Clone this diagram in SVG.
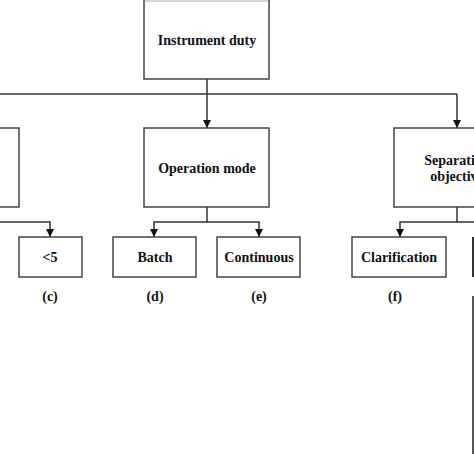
<svg xmlns="http://www.w3.org/2000/svg" width="474" height="474" viewBox="0 0 474 474">
<defs>
<marker id="ah" viewBox="0 0 10 10" refX="10" refY="5" markerWidth="8" markerHeight="8" markerUnits="userSpaceOnUse" orient="auto">
<path d="M0,0 L10,5 L0,10 Z" fill="#111"/>
</marker>
<style>
.box{fill:#fff;stroke:#444;stroke-width:1.5}
.t{font-family:"Liberation Serif","Times New Roman",serif;font-weight:bold;font-size:14px;fill:#111;text-anchor:middle}
.c{fill:none;stroke:#333;stroke-width:1.5}
</style>
</defs>
<rect x="0" y="0" width="474" height="474" fill="#fff"/>
<g id="connectors">
<path class="c" d="M207,79 V94"/>
<path class="c" d="M0,94 H457"/>
<path class="c" d="M207,94 V128" marker-end="url(#ah)"/>
<path class="c" d="M457,94 V128" marker-end="url(#ah)"/>
<path class="c" d="M0,222 H50 V237" marker-end="url(#ah)"/>
<path class="c" d="M207,207 V222"/>
<path class="c" d="M207,222 H154 V237" marker-end="url(#ah)"/>
<path class="c" d="M207,222 H259 V237" marker-end="url(#ah)"/>
<path class="c" d="M457,207 V222"/>
<path class="c" d="M474,222 H400 V237" marker-end="url(#ah)"/>
</g>
<g id="instrument-duty">
<rect class="box" x="144" y="-2" width="125" height="81"/>
<rect x="145" y="0" width="123" height="2" fill="#d4d4d4"/>
<text class="t" x="207" y="45">Instrument duty</text>
</g>
<g id="left-node">
<rect class="box" x="-20" y="128" width="39" height="79"/>
</g>
<g id="operation-mode">
<rect class="box" x="144" y="128" width="125" height="79"/>
<text class="t" x="207" y="173">Operation mode</text>
</g>
<g id="separation-objective">
<rect class="box" x="394" y="128" width="126" height="79"/>
<text class="t" x="457" y="165">Separation</text>
<text class="t" x="457" y="181">objective</text>
</g>
<g id="lt5">
<rect class="box" x="19" y="237" width="63" height="40"/>
<text class="t" x="50" y="262">&lt;5</text>
<text class="t" x="50" y="301">(c)</text>
</g>
<g id="batch">
<rect class="box" x="113" y="237" width="83" height="40"/>
<text class="t" x="155" y="262">Batch</text>
<text class="t" x="155" y="301">(d)</text>
</g>
<g id="continuous">
<rect class="box" x="217" y="237" width="83" height="40"/>
<text class="t" x="259" y="262">Continuous</text>
<text class="t" x="259" y="301">(e)</text>
</g>
<g id="clarification">
<rect class="box" x="352" y="237" width="94" height="40"/>
<text class="t" x="399" y="262">Clarification</text>
<text class="t" x="395" y="301">(f)</text>
</g>
<g id="right-node">
<rect x="472" y="237" width="3" height="40" fill="#333"/>
<rect x="472" y="296" width="2" height="158" fill="#555"/>
</g>
</svg>
